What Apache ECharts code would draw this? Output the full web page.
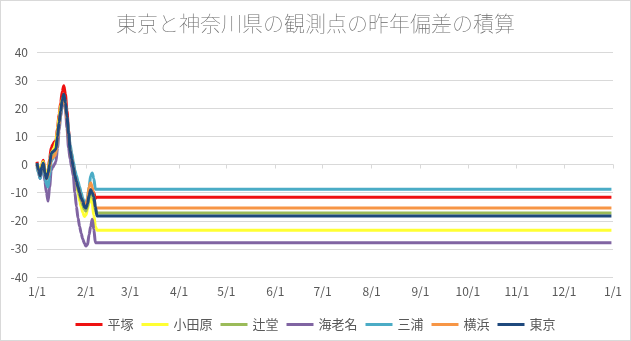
<!DOCTYPE html>
<html>
<head>
<meta charset="utf-8">
<script src="https://cdn.jsdelivr.net/npm/echarts@6/dist/echarts.min.js"></script>
<style>
  html, body { margin: 0; padding: 0; background: #fff; }
  #chart { width: 631px; height: 341px; box-sizing: border-box; border: 1px solid #d9d9d9; }
</style>
</head>
<body>
<div id="chart"></div>
<script>
// 月の長さと目盛りラベル
const monthDays = [31, 28, 31, 30, 31, 30, 31, 31, 30, 31, 30, 31];
const tickLabels = ['1/1', '2/1', '3/1', '4/1', '5/1', '6/1', '7/1', '8/1', '9/1', '10/1', '11/1', '12/1', '1/1'];

const seriesNames = ['平塚', '小田原', '辻堂', '海老名', '三浦', '横浜', '東京'];
const seriesColors = ['#ee1111', '#ffff33', '#9bbb59', '#8064a2', '#4bacc6', '#f79646', '#1f497d'];

// 1/1からの日ごとの積算値（以降は最終値のまま12/31まで）
const hiratsuka = [1, -1.5, -3, 0, 1.5, -2, -4, -2, 2, 6, 7, 8, 8.5, 13, 18, 22, 26, 28, 25, 19, 12, 6, 3, 0, -3, -5, -7, -9, -11, -12.5, -14, -15, -13.5, -10.5, -9, -9.5, -10, -12, -11.6];
const odawara = [0.5, -1, -3, 0, 1, -2, -4, -2, 1, 4, 5, 6, 8, 12, 17, 21, 23, 24, 21, 16, 10, 5, 2, -1, -4, -7, -10, -13, -15, -17, -18.5, -18, -16, -13, -12, -14, -18, -22, -23.4];
const tsujido = [0, -2, -4, -1, 0, -3, -5, -4, -1, 3, 3.5, 4, 5, 9.5, 14.5, 19, 22.5, 24.5, 21.5, 16, 10, 4.5, 1.5, -1.5, -4.5, -7, -9, -11, -13, -14.5, -16, -16.5, -15, -12, -10, -11, -13, -16, -17.2];
const ebina = [0, -3, -5, -2, -1, -6, -10, -13, -8, -2, -1, 0, 1, 6, 12, 17, 21, 23, 20, 13, 6, 2, -1, -4, -10, -15, -19, -22, -24.5, -26.5, -28, -29, -28.5, -25, -22, -19.5, -23, -27.8, -27.8];
const miura = [-1, -3, -5, -2, -1, -4, -7, -8, -4, 1, 2, 3, 4, 9, 14, 18, 22, 24.5, 22, 17, 12, 7, 4, 1, -2, -4, -6, -8, -10, -12, -13.5, -14, -12, -8, -4, -3, -5, -8.8, -8.8];
const yokohama = [0, -2, -4, -1, 0, -3, -5, -4, -1, 2, 2.5, 3, 4, 9, 14, 19, 22, 24, 21, 16, 10, 5, 2, -1, -4, -6, -8, -10, -12, -13.5, -14.5, -14.5, -12, -8, -6.5, -8, -11, -15.5, -15.5];
const tokyo = [0.5, -2, -4, -1, 0.5, -3, -5, -3, 0, 4, 4.5, 5, 5.5, 10, 15, 19, 23, 25, 22, 17, 11, 5, 2, -1, -4, -6, -8, -10, -12, -13, -15, -15.5, -14, -11, -9, -10, -11.5, -15, -18.3];
const allValues = [hiratsuka, odawara, tsujido, ebina, miura, yokohama, tokyo];

// 日付カテゴリ（1/1 〜 12/31, 翌1/1）
const days = [];
monthDays.forEach((n, m) => {
  for (let d = 1; d <= n; d++) days.push((m + 1) + '/' + d);
});
days.push(tickLabels[tickLabels.length - 1]);
const lastDay = days.length - 2;

const isMonthStart = (i, v) => String(v).split('/')[1] === '1';

let chart = echarts.init(document.getElementById('chart'));
const font = "'Noto Sans CJK JP', 'Noto Sans', sans-serif";

chart.setOption({
  animation: false,
  title: {
    text: '東京と神奈川県の観測点の昨年偏差の積算',
    left: 'center',
    top: 7,
    textStyle: { fontFamily: font, fontSize: 21, fontWeight: 'lighter', color: '#6b6b6b' }
  },
  legend: {
    data: seriesNames,
    left: 'center',
    top: 312,
    icon: 'rect',
    itemWidth: 27,
    itemHeight: 3,
    itemGap: 8,
    textStyle: { fontFamily: font, fontSize: 13, color: '#595959' }
  },
  grid: { left: 36, right: 17, top: 51, bottom: 63, containLabel: false },
  xAxis: {
    type: 'category',
    data: days,
    boundaryGap: false,
    axisLine: { lineStyle: { color: '#d9d9d9' } },
    axisTick: { interval: isMonthStart, length: 4, lineStyle: { color: '#d9d9d9' } },
    axisLabel: { interval: isMonthStart, fontFamily: font, fontSize: 12, color: '#595959', margin: 8 },
    splitLine: { show: false }
  },
  yAxis: {
    type: 'value',
    min: -40,
    max: 40,
    interval: 10,
    axisLine: { show: false },
    axisTick: { show: false },
    axisLabel: { fontFamily: font, fontSize: 12, color: '#595959', margin: 9 },
    splitLine: { lineStyle: { color: '#d9d9d9' } }
  },
  series: seriesNames.map((name, k) => {
    const vals = allValues[k];
    const data = vals.map((v, i) => [i, v]);
    data.push([lastDay, vals[vals.length - 1]]);
    return {
      name: name,
      type: 'line',
      data: data,
      symbol: 'none',
      smooth: 0.3,
      smoothMonotone: 'x',
      color: seriesColors[k],
      lineStyle: { width: 3, color: seriesColors[k] }
    };
  })
});
</script>
</body>
</html>
